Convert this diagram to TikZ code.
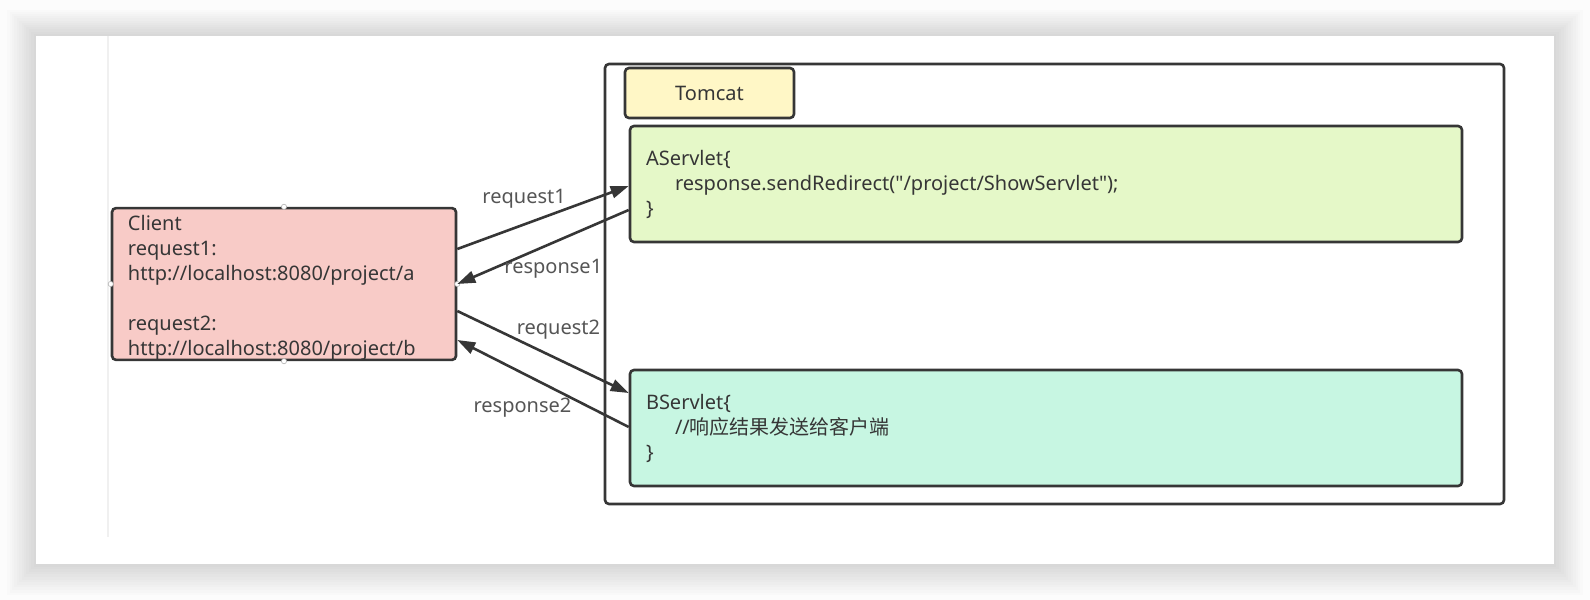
\documentclass[tikz,border=0pt]{standalone}
\usepackage{fontspec}
\setmainfont{Noto Sans}
\newfontfamily\cjkfont{Noto Sans CJK SC}
\usetikzlibrary{arrows.meta}
\definecolor{linegray}{HTML}{363636}
\definecolor{labelgray}{HTML}{555555}
\definecolor{clientpink}{HTML}{F8CBC7}
\definecolor{tomcatyellow}{HTML}{FFF7C6}
\definecolor{agreen}{HTML}{E5F8C8}
\definecolor{bmint}{HTML}{C7F6E2}
\tikzstyle{txt} = [font=\fontsize{20bp}{25bp}\selectfont, text=linegray]
\tikzstyle{box} = [rectangle, rounded corners=4bp, draw=linegray, line width=2.6bp, inner sep=0pt, txt]
\tikzstyle{codebox} = [box, minimum width=832bp, minimum height=116bp, text width=800bp, align=left]
\tikzstyle{handle} = [fill=white, draw=gray!60, line width=0.6bp]
\tikzstyle{arrow} = [line width=2.6bp, draw=linegray, -{Triangle[length=18bp,width=12bp]}]
\tikzstyle{msg} = [txt, text=labelgray, inner sep=0pt]

\begin{document}
\begin{tikzpicture}[x=1bp, y=-1bp]
    \useasboundingbox (0,0) rectangle (1590,600);
    % page with soft shadow
    \fill[gray!2] (0,0) rectangle (1590,600);
    \foreach \s in {1,...,12}
        \fill[black, opacity=0.01] ({36-2.4*\s},{36-2.2*\s}) rectangle ({1554+2.4*\s},{564+2.6*\s});
    \fill[white] (36,36) rectangle (1554,564);
    \draw[gray!12, line width=1.2bp] (108,36) -- (108,537);

    \node (tomcat) [box, minimum width=899bp, minimum height=440bp] at (1054.5,284) {};
    \node (tomcatlabel) [box, fill=tomcatyellow, minimum width=169bp, minimum height=50bp] at (709.5,93) {Tomcat};
    \node (aservlet) [codebox, fill=agreen] at (1046,184) {AServlet\{\\\hspace*{29bp}response.sendRedirect(\textquotedbl/project/ShowServlet\textquotedbl);\\\}};
    \node (bservlet) [codebox, fill=bmint] at (1046,428) {BServlet\{\\\hspace*{29bp}//{\cjkfont 响应结果发送给客户端}\\\}};
    \node (client) [box, fill=clientpink, minimum width=344bp, minimum height=150bp, text width=312bp, align=left] at (284,284) {\rule{0pt}{22bp}Client\\request1:\\http://localhost:8080/project/a\\\mbox{}\\request2:\\http://localhost:8080/project/b};
    \foreach \a in {north,south,east,west}
        \filldraw[handle] (client.\a) circle (2.6bp);

    \draw [arrow] ([yshift=35bp]client.east) -- node[msg, pos=0.39, yshift=26bp] {request1} ([yshift=-2bp]aservlet.west);
    \draw [arrow] ([yshift=-26bp]aservlet.west) -- node[msg, pos=0.44, yshift=-26bp] {response1} (client.east);
    \draw [arrow] ([yshift=-27bp]client.east) -- node[msg, pos=0.59, yshift=30bp] {request2} ([yshift=35bp]bservlet.west);
    \draw [arrow] ([yshift=1bp]bservlet.west) -- node[msg, pos=0.62, yshift=-35bp] {response2} ([yshift=-56bp]client.east);
\end{tikzpicture}
\end{document}
